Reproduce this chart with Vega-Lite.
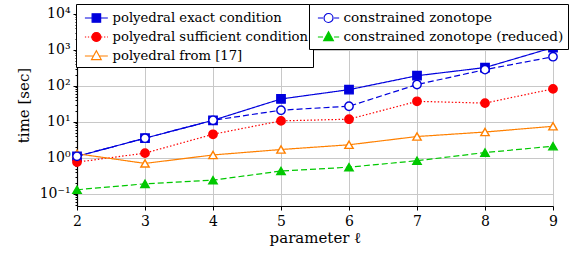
{
  "$schema": "https://vega.github.io/schema/vega-lite/v6.json",
  "width": 476,
  "height": 202,
  "autosize": "none",
  "padding": {"left": 77, "top": 4, "right": 17, "bottom": 49},
  "background": "white",
  "config": {
    "view": {"stroke": null},
    "font": "DejaVu Serif"
  },
  "data": {
    "values": [
      {"l": 2, "time": 1.1, "s": "polyedral exact condition"},
      {"l": 3, "time": 3.5, "s": "polyedral exact condition"},
      {"l": 4, "time": 11, "s": "polyedral exact condition"},
      {"l": 5, "time": 43, "s": "polyedral exact condition"},
      {"l": 6, "time": 78, "s": "polyedral exact condition"},
      {"l": 7, "time": 190, "s": "polyedral exact condition"},
      {"l": 8, "time": 320, "s": "polyedral exact condition"},
      {"l": 9, "time": 1150, "s": "polyedral exact condition"},
      {"l": 2, "time": 0.76, "s": "polyedral sufficient condition"},
      {"l": 3, "time": 1.35, "s": "polyedral sufficient condition"},
      {"l": 4, "time": 4.5, "s": "polyedral sufficient condition"},
      {"l": 5, "time": 10.6, "s": "polyedral sufficient condition"},
      {"l": 6, "time": 11.8, "s": "polyedral sufficient condition"},
      {"l": 7, "time": 37, "s": "polyedral sufficient condition"},
      {"l": 8, "time": 33, "s": "polyedral sufficient condition"},
      {"l": 9, "time": 82, "s": "polyedral sufficient condition"},
      {"l": 2, "time": 1.3, "s": "polyedral from [17]"},
      {"l": 3, "time": 0.7, "s": "polyedral from [17]"},
      {"l": 4, "time": 1.2, "s": "polyedral from [17]"},
      {"l": 5, "time": 1.7, "s": "polyedral from [17]"},
      {"l": 6, "time": 2.3, "s": "polyedral from [17]"},
      {"l": 7, "time": 3.9, "s": "polyedral from [17]"},
      {"l": 8, "time": 5.2, "s": "polyedral from [17]"},
      {"l": 9, "time": 7.5, "s": "polyedral from [17]"},
      {"l": 2, "time": 1.1, "s": "constrained zonotope"},
      {"l": 3, "time": 3.5, "s": "constrained zonotope"},
      {"l": 4, "time": 11, "s": "constrained zonotope"},
      {"l": 5, "time": 21, "s": "constrained zonotope"},
      {"l": 6, "time": 27, "s": "constrained zonotope"},
      {"l": 7, "time": 108, "s": "constrained zonotope"},
      {"l": 8, "time": 280, "s": "constrained zonotope"},
      {"l": 9, "time": 640, "s": "constrained zonotope"},
      {"l": 2, "time": 0.13, "s": "constrained zonotope (reduced)"},
      {"l": 3, "time": 0.19, "s": "constrained zonotope (reduced)"},
      {"l": 4, "time": 0.24, "s": "constrained zonotope (reduced)"},
      {"l": 5, "time": 0.43, "s": "constrained zonotope (reduced)"},
      {"l": 6, "time": 0.55, "s": "constrained zonotope (reduced)"},
      {"l": 7, "time": 0.83, "s": "constrained zonotope (reduced)"},
      {"l": 8, "time": 1.4, "s": "constrained zonotope (reduced)"},
      {"l": 9, "time": 2.1, "s": "constrained zonotope (reduced)"}
    ]
  },
  "encoding": {
    "x": {
      "field": "l",
      "type": "quantitative",
      "scale": {"domain": [2, 9], "nice": false, "zero": false},
      "axis": {
        "values": [2, 3, 4, 5, 6, 7, 8, 9],
        "title": "parameter ℓ",
        "grid": true,
        "gridColor": "#c8c8c8",
        "gridWidth": 1,
        "domainColor": "black",
        "domainWidth": 1.2,
        "tickColor": "black",
        "tickSize": 4,
        "labelFlush": false,
        "labelFont": "DejaVu Serif",
        "labelFontSize": 14,
        "labelColor": "black",
        "labelPadding": 4,
        "titleFont": "DejaVu Serif",
        "titleFontSize": 15,
        "titleFontWeight": "normal",
        "titleColor": "black",
        "titlePadding": 2
      }
    },
    "y": {
      "field": "time",
      "type": "quantitative",
      "scale": {"type": "log", "domain": [0.046, 18600], "nice": false},
      "axis": {
        "values": [0.05, 0.06, 0.07, 0.08, 0.09, 0.1, 0.2, 0.3, 0.4, 0.5, 0.6, 0.7, 0.8, 0.9, 1, 2, 3, 4, 5, 6, 7, 8, 9, 10, 20, 30, 40, 50, 60, 70, 80, 90, 100, 200, 300, 400, 500, 600, 700, 800, 900, 1000, 2000, 3000, 4000, 5000, 6000, 7000, 8000, 9000, 10000],
        "title": "time [sec]",
        "grid": true,
        "gridColor": "#c8c8c8",
        "gridWidth": 1,
        "gridOpacity": {"condition": {"test": "abs(log(datum.value)/LN10 - round(log(datum.value)/LN10)) < 0.001", "value": 1}, "value": 0},
        "tickSize": {"condition": {"test": "abs(log(datum.value)/LN10 - round(log(datum.value)/LN10)) < 0.001", "value": 4}, "value": 2},
        "labelExpr": "abs(log(datum.value)/LN10 - round(log(datum.value)/LN10)) < 0.001 ? ['10⁻¹','10⁰','10¹','10²','10³','10⁴'][round(log(datum.value)/LN10)+1] : ''",
        "labelOverlap": false,
        "domainColor": "black",
        "domainWidth": 1.2,
        "tickColor": "black",
        "labelFont": "DejaVu Serif",
        "labelFontSize": 14,
        "labelColor": "black",
        "labelPadding": 3,
        "titleFont": "DejaVu Serif",
        "titleFontSize": 15,
        "titleFontWeight": "normal",
        "titleColor": "black",
        "titlePadding": 8
      }
    }
  },
  "layer": [
    {
      "mark": {"type": "line", "strokeWidth": 1.2},
      "encoding": {
        "detail": {"field": "s"},
        "stroke": {
          "field": "s", "type": "nominal", "legend": null,
          "scale": {"domain": ["polyedral exact condition", "polyedral sufficient condition", "polyedral from [17]", "constrained zonotope", "constrained zonotope (reduced)"],
                    "range": ["#0000dd", "#ff0000", "#ff8000", "#0000dd", "#00c800"]}
        },
        "strokeDash": {
          "field": "s", "type": "nominal", "legend": null,
          "scale": {"domain": ["polyedral exact condition", "polyedral sufficient condition", "polyedral from [17]", "constrained zonotope", "constrained zonotope (reduced)"],
                    "range": [[1, 0], [1.5, 2], [1, 0], [6, 3], [6, 3]]}
        }
      }
    },
    {
      "mark": {"type": "point", "filled": true, "opacity": 1, "size": 70, "strokeWidth": 1.4},
      "encoding": {
        "shape": {
          "field": "s", "type": "nominal", "legend": null,
          "scale": {"domain": ["polyedral exact condition", "polyedral sufficient condition", "polyedral from [17]", "constrained zonotope", "constrained zonotope (reduced)"],
                    "range": ["square", "circle", "triangle-up", "circle", "triangle-up"]}
        },
        "stroke": {
          "field": "s", "type": "nominal", "legend": null,
          "scale": {"domain": ["polyedral exact condition", "polyedral sufficient condition", "polyedral from [17]", "constrained zonotope", "constrained zonotope (reduced)"],
                    "range": ["#0000dd", "#ff0000", "#ff8000", "#0000dd", "#00c800"]}
        },
        "fill": {
          "field": "s", "type": "nominal", "legend": null,
          "scale": {"domain": ["polyedral exact condition", "polyedral sufficient condition", "polyedral from [17]", "constrained zonotope", "constrained zonotope (reduced)"],
                    "range": ["#0000dd", "#ff0000", "white", "white", "#00c800"]}
        }
      }
    },
    {
      "transform": [{"filter": "false"}],
      "mark": {"type": "point", "filled": true, "opacity": 1, "strokeWidth": 1.2},
      "encoding": {
        "shape": {
          "field": "s", "type": "nominal",
          "scale": {"domain": ["polyedral exact condition", "polyedral sufficient condition", "polyedral from [17]"],
                    "range": [
                      "M-0.6,0H0.25M1.25,0H2.1M0.25,-0.5H1.25V0.5H0.25Z",
                      "M-0.6,0h0.15M-0.25,0h0.15M0.1,0h0.15M1.3,0h0.15M1.65,0h0.15M2.0,0h0.1M1.28,0A0.53,0.53 0 1,1 0.22,0A0.53,0.53 0 1,1 1.28,0Z",
                      "M-0.6,0H0.4M1.1,0H2.1M0.75,-0.62L1.32,0.42L0.18,0.42Z"
                    ]},
          "legend": {"title": null, "orient": "none", "legendX": -1, "legendY": 0, "direction": "vertical",
                     "fillColor": "white", "strokeColor": "black", "padding": 4.5, "rowPadding": 2,
                     "symbolSize": 289, "symbolStrokeWidth": 1.2, "labelOffset": 13,
                     "labelFont": "DejaVu Serif", "labelFontSize": 13.2, "labelColor": "black", "labelLimit": 400}
        },
        "stroke": {
          "field": "s", "type": "nominal",
          "scale": {"domain": ["polyedral exact condition", "polyedral sufficient condition", "polyedral from [17]"],
                    "range": ["#0000dd", "#ff0000", "#ff8000"]}
        },
        "fill": {
          "field": "s", "type": "nominal",
          "scale": {"domain": ["polyedral exact condition", "polyedral sufficient condition", "polyedral from [17]"],
                    "range": ["#0000dd", "#ff0000", "white"]}
        }
      }
    },
    {
      "transform": [{"filter": "false"}],
      "mark": {"type": "point", "filled": true, "opacity": 1, "strokeWidth": 1.2},
      "encoding": {
        "shape": {
          "field": "s", "type": "nominal",
          "scale": {"domain": ["constrained zonotope", "constrained zonotope (reduced)"],
                    "range": [
                      "M-0.6,0H0.0M1.3,0H1.9M1.18,0A0.53,0.53 0 1,1 0.12,0A0.53,0.53 0 1,1 1.18,0Z",
                      "M-0.6,0H0.0M1.3,0H1.9M0.65,-0.62L1.22,0.42L0.08,0.42Z"
                    ]},
          "legend": {"title": null, "orient": "none", "legendX": 232, "legendY": 0, "direction": "vertical",
                     "fillColor": "white", "strokeColor": "black", "padding": 4.5, "rowPadding": 2,
                     "symbolSize": 289, "symbolStrokeWidth": 1.2, "labelOffset": 11,
                     "labelFont": "DejaVu Serif", "labelFontSize": 13.6, "labelColor": "black", "labelLimit": 400}
        },
        "stroke": {
          "field": "s", "type": "nominal",
          "scale": {"domain": ["constrained zonotope", "constrained zonotope (reduced)"],
                    "range": ["#0000dd", "#00c800"]}
        },
        "fill": {
          "field": "s", "type": "nominal",
          "scale": {"domain": ["constrained zonotope", "constrained zonotope (reduced)"],
                    "range": ["white", "#00c800"]}
        }
      }
    }
  ],
  "resolve": {"scale": {"shape": "independent", "stroke": "independent", "fill": "independent", "strokeDash": "independent"}}
}
